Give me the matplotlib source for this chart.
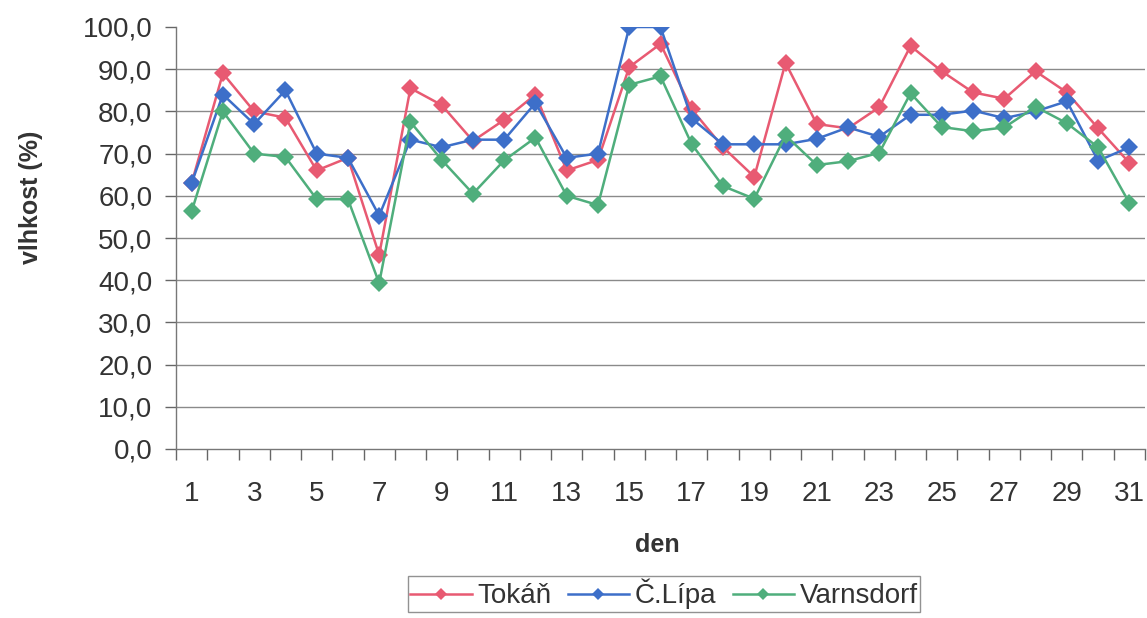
import numpy as np
import matplotlib.pyplot as plt

days = list(range(1, 32))
tokan = [63, 89, 80, 78.5, 66, 69, 46, 85.5, 81.5, 73, 78, 84, 66, 68.5, 90.5, 96,
         80.5, 71.5, 64.5, 91.5, 77, 76, 81, 95.5, 89.5, 84.5, 83, 89.5, 84.5, 76, 67.8]
clipa = [63, 84, 77, 85, 70, 69, 55.3, 73.3, 71.5, 73.3, 73.3, 82, 69, 70, 100, 100,
         78.3, 72.2, 72.2, 72.2, 73.5, 76.2, 74, 79.2, 79.2, 80.2, 78.4, 80, 82.4, 68.3, 71.5]
varnsdorf = [56.3, 80, 70, 69.2, 59.2, 59.2, 39.3, 77.5, 68.5, 60.5, 68.4, 73.8, 60, 57.8, 86.3, 88.3,
             72.2, 62.3, 59.3, 74.3, 67.3, 68.2, 70.2, 84.3, 76.3, 75.3, 76.2, 81.1, 77.2, 71.5, 58.3]
yticks = np.arange(0, 101, 10)

plt.rcParams['font.family'] = ['Liberation Sans', 'DejaVu Sans']
txt = '#333333'

fig = plt.figure(figsize=(11.47, 6.18), dpi=100)
ax = fig.add_axes([176 / 1147, 1 - 449 / 618, 969 / 1147, 422 / 618])

series = [
    ('Tokáň', tokan, '#e85a72'),
    ('Č.Lípa', clipa, '#3d6fc9'),
    ('Varnsdorf', varnsdorf, '#4fae7c'),
]
for name, vals, col in series:
    ax.plot(days, vals, color=col, lw=1.8, marker='D', markersize=9,
            markeredgewidth=0, label=name, zorder=3)

ax.set_xlim(0.5, 31.5)
ax.set_ylim(0, 100)
ax.set_yticks(yticks)
ax.set_yticklabels([f'{v:.1f}'.replace('.', ',') for v in yticks])
ax.set_xticks(days[::2])
ax.set_xticks(np.arange(0.5, 31.6, 1), minor=True)
ax.tick_params(axis='x', which='major', length=0, pad=23, labelsize=20, labelcolor=txt)
ax.tick_params(axis='x', which='minor', length=8, width=1, color='#666666')
ax.tick_params(axis='y', length=8, width=1, color='#666666', pad=9, labelsize=20, labelcolor=txt)

for v in yticks[1:-1]:
    ax.axhline(v, color='#8a8a8a', lw=1, zorder=1)
for s in ['top', 'right']:
    ax.spines[s].set_visible(False)
for s in ['left', 'bottom']:
    ax.spines[s].set_color('#777777')
    ax.spines[s].set_linewidth(1)

fig.text(31 / 1147, 1 - 197 / 618, 'vlhkost (%)', rotation=90, ha='center', va='center',
         fontsize=18, fontweight='bold', color=txt)
fig.text(657 / 1147, 1 - 545 / 618, 'den', ha='center', va='center',
         fontsize=18, fontweight='bold', color=txt)

leg = fig.legend(loc='upper center', bbox_to_anchor=(664 / 1147, 1 - 576 / 618), ncol=3,
                 frameon=True, fancybox=False, edgecolor='#777777', fontsize=20,
                 handlelength=2.2, handletextpad=0.2, columnspacing=0.6, borderpad=0.1,
                 borderaxespad=0, markerscale=0.7)
for t in leg.get_texts():
    t.set_color(txt)

fig.savefig('out.png', dpi=100)
